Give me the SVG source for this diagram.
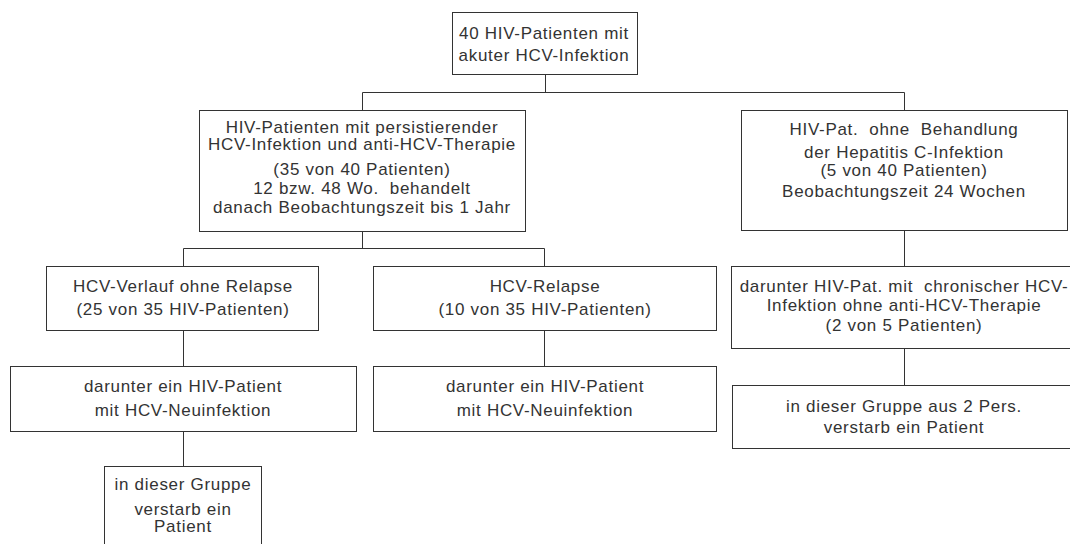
<svg xmlns="http://www.w3.org/2000/svg" width="1070" height="544" viewBox="0 0 1070 544">
<style>
rect.box{fill:#fff;stroke:#333;stroke-width:1}
.c line{stroke:#333;stroke-width:1}
text{font-family:"Liberation Sans",Arial,sans-serif;font-size:17px;fill:#333;text-anchor:middle;letter-spacing:0.7px}
</style>
<rect width="1070" height="544" fill="#fff"/>
<g class="c" id="connectors">
<line x1="545.5" y1="75" x2="545.5" y2="92.5"/>
<line x1="362.5" y1="92.5" x2="904.5" y2="92.5"/>
<line x1="362.5" y1="92.5" x2="362.5" y2="110.5"/>
<line x1="904.5" y1="92.5" x2="904.5" y2="110.5"/>
<line x1="362.5" y1="231.5" x2="362.5" y2="248.5"/>
<line x1="183.5" y1="248.5" x2="544.5" y2="248.5"/>
<line x1="183.5" y1="248.5" x2="183.5" y2="266.5"/>
<line x1="544.5" y1="248.5" x2="544.5" y2="266.5"/>
<line x1="183.5" y1="330.5" x2="183.5" y2="366.5"/>
<line x1="544.5" y1="330.5" x2="544.5" y2="366.5"/>
<line x1="183.5" y1="431.5" x2="183.5" y2="466.5"/>
<line x1="904.5" y1="230.5" x2="904.5" y2="266.5"/>
<line x1="904.5" y1="348.5" x2="904.5" y2="385.5"/>
</g>
<g id="n1">
<rect class="box" x="452.5" y="12.5" width="185" height="62"/>
<text x="544" y="39">40 HIV-Patienten mit</text>
<text x="544" y="61">akuter HCV-Infektion</text>
</g>
<g id="n2">
<rect class="box" x="199.5" y="110.5" width="326" height="121"/>
<text x="362" y="133">HIV-Patienten mit persistierender</text>
<text x="362" y="150">HCV-Infektion und anti-HCV-Therapie</text>
<text x="362" y="175">(35 von 40 Patienten)</text>
<text x="362" y="194" xml:space="preserve">12 bzw. 48 Wo.  behandelt</text>
<text x="362" y="213">danach Beobachtungszeit bis 1 Jahr</text>
</g>
<g id="n3">
<rect class="box" x="741.5" y="110.5" width="326" height="120"/>
<text x="904" y="135" xml:space="preserve">HIV-Pat.  ohne  Behandlung</text>
<text x="904" y="158">der Hepatitis C-Infektion</text>
<text x="904" y="176">(5 von 40 Patienten)</text>
<text x="904" y="197">Beobachtungszeit 24 Wochen</text>
</g>
<g id="n4">
<rect class="box" x="46.5" y="266.5" width="272" height="64"/>
<text x="183" y="292">HCV-Verlauf ohne Relapse</text>
<text x="183" y="315">(25 von 35 HIV-Patienten)</text>
</g>
<g id="n5">
<rect class="box" x="373.5" y="266.5" width="343" height="64"/>
<text x="545" y="292">HCV-Relapse</text>
<text x="545" y="315">(10 von 35 HIV-Patienten)</text>
</g>
<g id="n6">
<rect class="box" x="10.5" y="366.5" width="346" height="65"/>
<text x="183" y="392">darunter ein HIV-Patient</text>
<text x="183" y="416">mit HCV-Neuinfektion</text>
</g>
<g id="n7">
<rect class="box" x="373.5" y="366.5" width="343" height="65"/>
<text x="545" y="392">darunter ein HIV-Patient</text>
<text x="545" y="416">mit HCV-Neuinfektion</text>
</g>
<g id="n8">
<rect class="box" x="104.5" y="466.5" width="157" height="90"/>
<text x="183" y="490">in dieser Gruppe</text>
<text x="183" y="515">verstarb ein</text>
<text x="183" y="532">Patient</text>
</g>
<g id="n9">
<rect class="box" x="731.5" y="266.5" width="345" height="82"/>
<text x="904" y="292" xml:space="preserve">darunter HIV-Pat. mit  chronischer HCV-</text>
<text x="904" y="311">Infektion ohne anti-HCV-Therapie</text>
<text x="904" y="331">(2 von 5 Patienten)</text>
</g>
<g id="n10">
<rect class="box" x="732.5" y="385.5" width="345" height="63"/>
<text x="904" y="412">in dieser Gruppe aus 2 Pers.</text>
<text x="904" y="433">verstarb ein Patient</text>
</g>
</svg>
